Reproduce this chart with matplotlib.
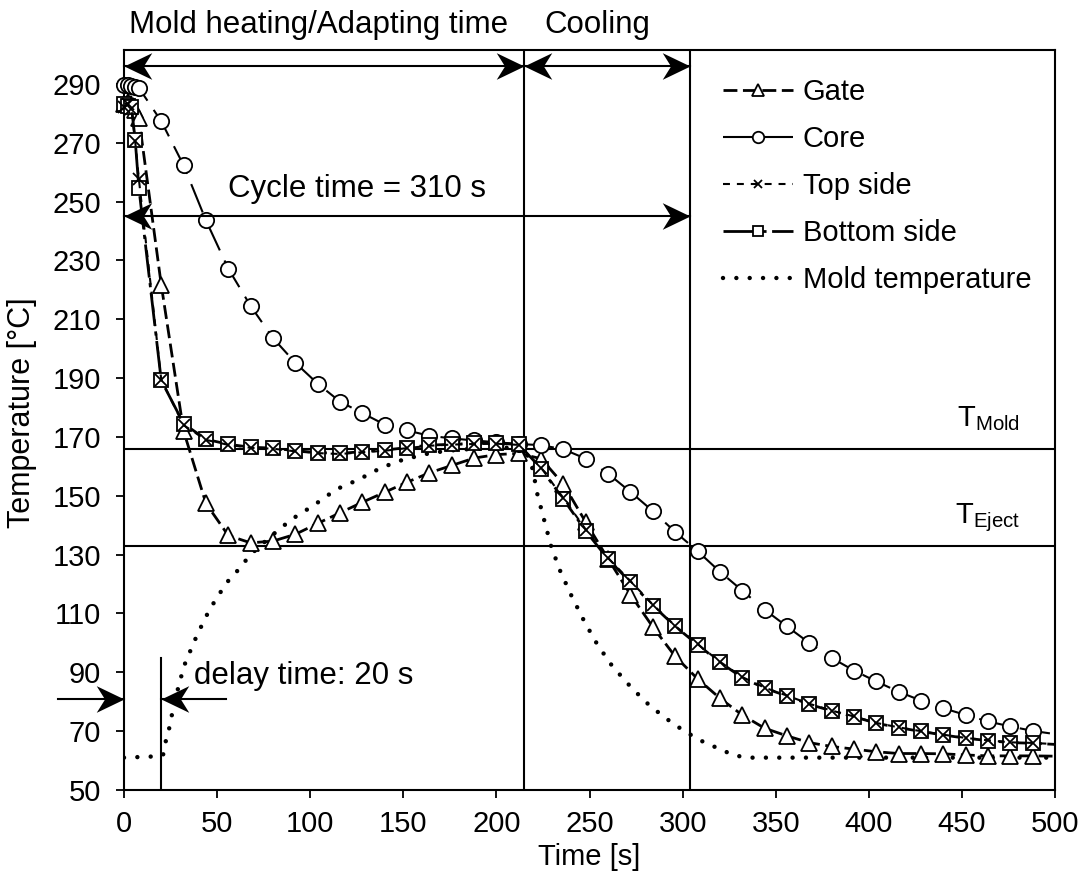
import matplotlib
matplotlib.use("Agg")
import matplotlib.pyplot as plt
from matplotlib.path import Path

plt.rcParams["font.family"] = ["Liberation Sans", "DejaVu Sans"]
plt.rcParams["mathtext.default"] = "regular"
plt.rcParams["lines.scale_dashes"] = False

# ==========================================================
# DATA
# ==========================================================

time_s = [0, 2, 4, 6, 8,
          20, 32, 44, 56, 68, 80, 92, 104, 116, 128,
          140, 152, 164, 176, 188, 200, 212, 224, 236, 248,
          260, 272, 284, 296, 308, 320, 332, 344, 356, 368,
          380, 392, 404, 416, 428, 440, 452, 464, 476, 488,
          500]

gate = [283, 284, 283, 281, 278.3,
        221.7, 172, 147.4, 136.5, 134, 134.6, 136.9, 140.6, 144.2, 147.8,
        151.2, 154.6, 157.8, 160.3, 162.8, 164, 164.4, 162.6, 153.9, 141,
        128.5, 116.4, 105.4, 95.4, 87.8, 81.2, 75.5, 71, 68.4, 66.1,
        64.8, 63.9, 63, 62.4, 62.4, 62.3, 61.9, 61.6, 61.6, 61.6,
        61.5]

core = [289.5, 289.5, 289.3, 289, 288.6,
        277.3, 262.3, 243.6, 227.2, 214.5, 203.6, 195.2, 188.1, 182, 178.1,
        174.2, 172.2, 170.4, 169.5, 168.8, 168.2, 167.6, 167.2, 165.8, 162.6,
        157.5, 151.3, 144.8, 137.7, 131.2, 124.2, 117.8, 111.3, 105.6, 100,
        94.9, 90.6, 86.9, 83.4, 80.4, 77.8, 75.5, 73.3, 71.6, 70.1,
        69.0]

top_side = [282, 283, 281.5, 270.5, 257.5,
            189.5, 174, 169, 167.3, 166.3, 166, 165.1, 164.5, 164.2, 164.8,
            165.3, 166.2, 167, 167.4, 167.6, 167.7, 167.3, 159.5, 149.2, 138.5,
            128.8, 121, 113, 105.8, 99.6, 93.6, 88.4, 84.8, 82.1, 79.3,
            77, 75, 72.8, 71.3, 70, 68.8, 67.7, 66.9, 66.2, 66,
            65.6]

bottom_side = [283, 282.5, 282, 271, 254.5,
               189.2, 174.5, 169.2, 167.5, 166.5, 166.2, 165.3, 164.7, 164.4, 165,
               165.5, 166.4, 167.2, 167.5, 167.8, 167.8, 167.5, 159.2, 148.8, 138,
               128.4, 120.6, 112.7, 105.6, 99.4, 93.4, 88.2, 84.6, 82, 79.1,
               76.9, 74.9, 72.7, 71.2, 69.9, 68.7, 67.6, 66.8, 66.1, 65.9,
               65.5]

mold_time = [0, 20, 21, 22.4, 24.2, 25.6, 27.3, 28.8, 30.6, 32.4,
             35.1, 37.8, 40.8, 43.9, 47.3, 55, 60, 64, 69, 79,
             90, 102, 114, 126, 138, 150, 165, 180, 200, 215,
             219.5, 222, 225.7, 229.3, 234, 240, 246.3, 253, 261, 270,
             280, 290, 300, 309, 321, 328, 336, 400, 500]

mold_temp = [61, 61.5, 62, 66.5, 70.8, 75.2, 80, 84, 88.3, 92.4,
             96.5, 100.6, 104.7, 108.8, 112.7, 120.4, 123.8, 127, 130.6, 136.3,
             142, 146.8, 152.2, 155.5, 159.5, 162.3, 164.6, 165.7, 166.2, 166.5,
             159, 150.5, 141.6, 133, 124.8, 116.4, 108.4, 100.7, 93.1, 86.5,
             80, 74.8, 70.4, 67, 63.6, 61.7, 61, 61, 61]

T_MOLD = 166
T_EJECT = 133
T_END_HEAT = 215
T_END_COOL = 304
DELAY = 20

# ==========================================================
# PLOT
# ==========================================================

fig = plt.figure(figsize=(10.84, 8.82), dpi=100)
ax = fig.add_axes([0.1144, 0.1043, 0.8589, 0.8390])

FS_TICK = 21
FS_TEXT = 22.5
mark_idx = list(range(len(time_s) - 1))

common = dict(color="black", mfc="white", mec="black", clip_on=False,
              markevery=mark_idx)

l_gate, = ax.plot(time_s, gate, ls=(0, (10, 4)), lw=2.0, marker="^",
                  ms=11, mew=1.3, zorder=4, **common)
l_core, = ax.plot(time_s, core, ls=(0, (22, 8)), lw=1.5, marker="o",
                  ms=11, mew=1.3, zorder=4, **common)
l_bot, = ax.plot(time_s, bottom_side, ls=(0, (24, 4, 3, 4)), lw=2.0,
                 marker="s", ms=10, mew=1.3, zorder=5, **common)
l_top, = ax.plot(time_s, top_side, ls=(0, (5, 5)), lw=1.5, marker="x",
                 ms=8, mew=1.3, zorder=6, color="black", clip_on=False,
                 markevery=mark_idx)
l_mold, = ax.plot(mold_time, mold_temp, ls=(0, (0.01, 9.6)), lw=3.2,
                  color="black", dash_capstyle="round", zorder=3)

# reference lines
ax.axhline(T_MOLD, color="black", lw=1.5, zorder=2)
ax.axhline(T_EJECT, color="black", lw=1.5, zorder=2)
ax.axvline(T_END_HEAT, color="black", lw=1.5, zorder=2)
ax.axvline(T_END_COOL, color="black", lw=1.5, zorder=2)
ax.plot([DELAY, DELAY], [50, 95], color="black", lw=1.5, zorder=2)

ax.text(481, 173.6, r"T$_{Mold}$", fontsize=21, ha="right", va="baseline")
ax.text(481, 140.8, r"T$_{Eject}$", fontsize=21, ha="right", va="baseline")

# ----------------------------------------------------------
# arrows with stealth-like heads
# ----------------------------------------------------------

codes = [Path.MOVETO, Path.LINETO, Path.LINETO, Path.LINETO, Path.CLOSEPOLY]
head_right = Path([(0, 0), (-1, 0.48), (-0.7, 0), (-1, -0.48), (0, 0)], codes)
head_left = Path([(0, 0), (1, 0.48), (0.7, 0), (1, -0.48), (0, 0)], codes)


def arrow(x0, x1, y, head_start=False):
    ax.plot([x0, x1], [y, y], color="black", lw=1.5, clip_on=False, zorder=6)
    tip = head_right if x1 > x0 else head_left
    ax.plot([x1], [y], marker=tip, ms=40, mew=0, color="black",
            clip_on=False, zorder=6)
    if head_start:
        back = head_left if x1 > x0 else head_right
        ax.plot([x0], [y], marker=back, ms=40, mew=0, color="black",
                clip_on=False, zorder=6)


arrow(0, T_END_HEAT, 296, head_start=True)
arrow(T_END_HEAT, T_END_COOL, 296, head_start=True)
arrow(0, T_END_COOL, 245, head_start=True)
arrow(-35.5, 0, 81)
arrow(55, DELAY, 81)

ax.text(104.7, 307.2, "Mold heating/Adapting time", fontsize=FS_TEXT,
        ha="center", va="baseline", clip_on=False)
ax.text(254.3, 307.2, "Cooling", fontsize=FS_TEXT, ha="center",
        va="baseline", clip_on=False)
ax.text(56, 254.4, "Cycle time = 310 s", fontsize=FS_TEXT, ha="left",
        va="center")
ax.text(37.6, 88.6, "delay time: 20 s", fontsize=FS_TEXT, ha="left",
        va="center")

# axes
ax.set_xlim(0, 500)
ax.set_ylim(50, 301.5)
ax.set_xticks(range(0, 501, 50))
ax.set_yticks(range(50, 291, 20))
ax.tick_params(direction="out", length=5.5, width=1.3, labelsize=FS_TICK)
ax.tick_params(axis="y", pad=11)
ax.tick_params(axis="x", pad=9)
for sp in ax.spines.values():
    sp.set_linewidth(1.5)

ax.set_xlabel("Time [s]", fontsize=21)
ax.set_ylabel("Temperature [°C]", fontsize=22)
ax.xaxis.set_label_coords(0.5, -0.0716)
ax.yaxis.set_label_coords(-0.093, 0.51)

ax.legend([l_gate, l_core, l_top, l_bot, l_mold],
          ["Gate", "Core", "Top side", "Bottom side", "Mold temperature"],
          loc="upper left", bbox_to_anchor=(723 / 1084, 1 - 78 / 882),
          bbox_transform=fig.transFigure, frameon=False, fontsize=21,
          handlelength=2.4, handletextpad=0.34, labelspacing=0.65,
          borderpad=0, borderaxespad=0, markerscale=0.75)

fig.savefig("out.png", dpi=100)
